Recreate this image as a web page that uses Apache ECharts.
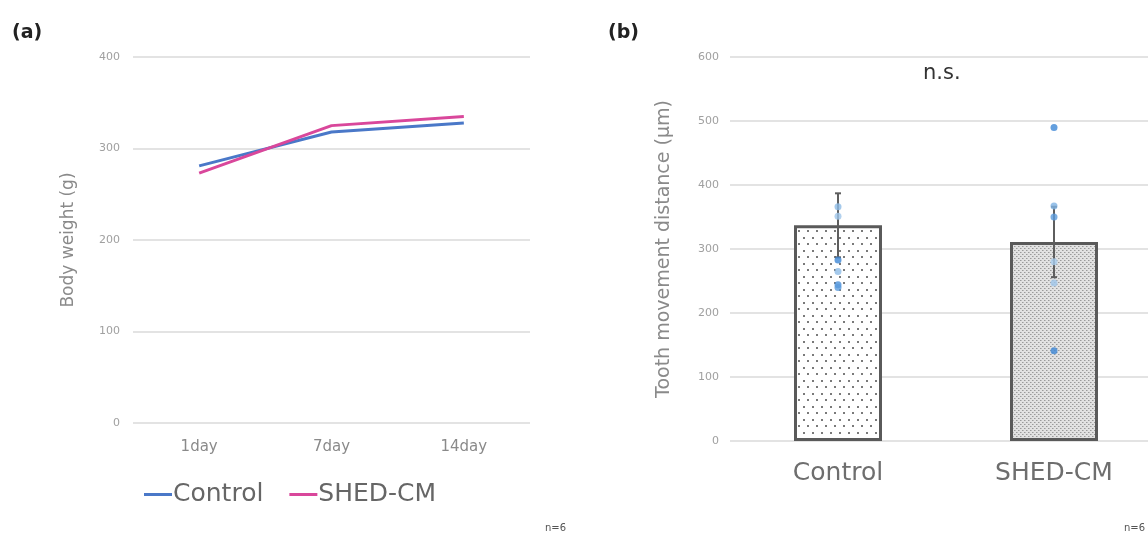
<!DOCTYPE html>
<html>
<head>
<meta charset="utf-8">
<script src="https://cdn.jsdelivr.net/npm/echarts@6/dist/echarts.min.js"></script>
<style>
  html, body { margin: 0; padding: 0; background: #fff; overflow: hidden; }
  /* the right panel runs past the edge of the picture, so the canvas is a bit wider than the window */
  #main { width: 1162px; height: 536px; }
</style>
</head>
<body>
<div id="main"></div>
<script>
// (a) body weight
var days = ['1day', '7day', '14day'];
var controlWeight = [281, 318, 328];
var shedWeight = [273, 325, 335];

// (b) tooth movement distance
var groups = ['Control', 'SHED-CM'];
var meanDistance = [337, 311];
var sdDistance = [50, 55];
var controlPoints = [366, 351, 283, 265, 244, 240];
var shedPoints = [490, 367, 350, 280, 247, 141];

var FONT = '"DejaVu Sans", "Noto Sans", sans-serif';

// small canvas tiles for the bar fills
function makeTile(w, h, bg, draw) {
  var c = document.createElement('canvas');
  c.width = w;
  c.height = h;
  var ctx = c.getContext('2d');
  ctx.fillStyle = bg;
  ctx.fillRect(0, 0, w, h);
  draw(ctx);
  return c;
}

var dotTile = makeTile(9, 13, '#ffffff', function (ctx) {
  ctx.fillStyle = '#7a7a7a';
  ctx.fillRect(2, 3, 2, 2);
  ctx.fillRect(6, 9, 2, 2);
});

var fineTile = makeTile(4, 4, '#e2e2e2', function (ctx) {
  ctx.fillStyle = '#9a9a9a';
  ctx.fillRect(0, 0, 1, 1);
  ctx.fillRect(2, 2, 1, 1);
  ctx.fillStyle = '#bdbdbd';
  ctx.fillRect(1, 0, 1, 1);
  ctx.fillRect(3, 2, 1, 1);
});

var barFills = [
  { image: dotTile, repeat: 'repeat' },
  { image: fineTile, repeat: 'repeat' }
];

var barData = meanDistance.map(function (v, i) {
  return { value: v, itemStyle: { color: barFills[i] } };
});

var errData = meanDistance.map(function (v, i) {
  return [i, v + sdDistance[i], v - sdDistance[i]];
});

var pointData = [];
controlPoints.forEach(function (v) { pointData.push([0, v]); });
shedPoints.forEach(function (v) { pointData.push([1, v]); });
// lighter / darker markers as in the picture
var pointShade = ['#8dbbe6', '#9fc6ea', '#3d87d6', '#8dbbe6', '#4a90d9', '#5b9bdc',
                  '#3d87d6', '#7fb3e3', '#5b9bdc', '#a9cdee', '#9fc6ea', '#3d87d6'];

var chart = echarts.init(document.getElementById('main'), null, { renderer: 'canvas' });

var option = {
  animation: false,
  textStyle: { fontFamily: FONT },
  grid: [
    { left: 133, right: 632, top: 57, bottom: 113 },
    { left: 730, right: 0, top: 57, bottom: 95 }
  ],
  legend: {
    data: ['Control', 'SHED-CM'],
    left: 139,
    top: 477,
    icon: 'rect',
    itemWidth: 28,
    itemHeight: 3,
    itemGap: 26,
    textStyle: { fontSize: 25, color: '#666', fontFamily: FONT, padding: [0, 0, 0, -4] }
  },
  xAxis: [
    {
      gridIndex: 0,
      type: 'category',
      data: days,
      axisLine: { show: false },
      axisTick: { show: false },
      axisLabel: { fontSize: 15, color: '#8a8a8a', margin: 17 }
    },
    {
      gridIndex: 1,
      type: 'category',
      data: groups,
      axisLine: { show: false },
      axisTick: { show: false },
      axisLabel: { fontSize: 25, color: '#6e6e6e', margin: 20 }
    }
  ],
  yAxis: [
    {
      gridIndex: 0,
      type: 'value',
      min: 0,
      max: 400,
      interval: 100,
      name: 'Body weight (g)',
      nameLocation: 'middle',
      nameGap: 56,
      nameTextStyle: { fontSize: 17, color: '#8a8a8a' },
      axisLine: { show: false },
      axisTick: { show: false },
      axisLabel: { fontSize: 11, color: '#a0a0a0', margin: 13 },
      splitLine: { lineStyle: { color: '#dadada', width: 1.5 } }
    },
    {
      gridIndex: 1,
      type: 'value',
      min: 0,
      max: 600,
      interval: 100,
      name: 'Tooth movement distance (μm)',
      nameLocation: 'middle',
      nameGap: 56,
      nameTextStyle: { fontSize: 19, color: '#8a8a8a' },
      axisLine: { show: false },
      axisTick: { show: false },
      axisLabel: { fontSize: 11, color: '#a0a0a0', margin: 11 },
      splitLine: { lineStyle: { color: '#dadada', width: 1.5 } }
    }
  ],
  series: [
    {
      name: 'Control',
      type: 'line',
      xAxisIndex: 0,
      yAxisIndex: 0,
      data: controlWeight,
      showSymbol: false,
      color: '#4a78c8',
      lineStyle: { width: 3 },
      z: 3
    },
    {
      name: 'SHED-CM',
      type: 'line',
      xAxisIndex: 0,
      yAxisIndex: 0,
      data: shedWeight,
      showSymbol: false,
      color: '#d9479b',
      lineStyle: { width: 3 },
      z: 3
    },
    {
      name: 'Tooth movement',
      type: 'bar',
      xAxisIndex: 1,
      yAxisIndex: 1,
      data: barData,
      barWidth: 88,
      itemStyle: { borderColor: '#5a5a5a', borderWidth: 3 },
      z: 2
    },
    {
      name: 'SD',
      type: 'custom',
      xAxisIndex: 1,
      yAxisIndex: 1,
      data: errData,
      z: 4,
      renderItem: function (params, api) {
        var top = api.coord([api.value(0), api.value(1)]);
        var bot = api.coord([api.value(0), api.value(2)]);
        var st = { stroke: '#5e5e5e', lineWidth: 2 };
        return {
          type: 'group',
          children: [
            { type: 'line', shape: { x1: top[0], y1: top[1], x2: bot[0], y2: bot[1] }, style: st },
            { type: 'line', shape: { x1: top[0] - 3, y1: top[1], x2: top[0] + 3, y2: top[1] }, style: st },
            { type: 'line', shape: { x1: bot[0] - 3, y1: bot[1], x2: bot[0] + 3, y2: bot[1] }, style: st }
          ]
        };
      }
    },
    {
      name: 'points',
      type: 'scatter',
      xAxisIndex: 1,
      yAxisIndex: 1,
      data: pointData,
      symbolSize: 7,
      z: 5,
      itemStyle: {
        color: function (p) { return pointShade[p.dataIndex]; }
      }
    }
  ],
  graphic: [
    { type: 'text', left: 12, top: 24, style: { text: '(a)', fontSize: 19, fontWeight: 'bold', fill: '#222', fontFamily: FONT } },
    { type: 'text', left: 608, top: 24, style: { text: '(b)', fontSize: 19, fontWeight: 'bold', fill: '#222', fontFamily: FONT } },
    { type: 'text', left: 923, top: 63, style: { text: 'n.s.', fontSize: 21, fill: '#333', fontFamily: FONT } },
    { type: 'text', left: 545, top: 523, style: { text: 'n=6', fontSize: 10, fill: '#555', fontFamily: FONT } },
    { type: 'text', left: 1124, top: 523, style: { text: 'n=6', fontSize: 10, fill: '#555', fontFamily: FONT } }
  ]
};

chart.setOption(option);
</script>
</body>
</html>
